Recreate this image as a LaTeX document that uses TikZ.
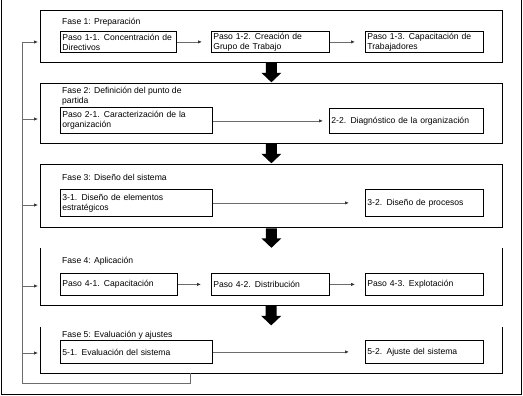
\documentclass[tikz,border=0pt]{standalone}
\usepackage{fontspec}
\setmainfont{Liberation Sans}
\usetikzlibrary{arrows.meta,calc}
\begin{document}
\begin{tikzpicture}[x=1pt,y=-1pt,
  every node/.style={font=\fontsize{8.6}{10}\selectfont},
  phase/.style={draw=black,line width=0.8pt,anchor=north west,inner sep=0pt,minimum width=462pt},
  phaseopen/.style={anchor=north west,inner sep=0pt,minimum width=462pt},
  stepbox/.style={draw=black,line width=0.8pt,anchor=north west,inner xsep=2pt,inner ysep=0pt,align=left},
  lbl/.style={anchor=base west,inner sep=0pt},
  link/.style={draw=gray!85!black,line width=0.7pt,-{Latex[length=4pt,width=3.4pt,color=black!80]}},
  bus/.style={draw=gray!85!black,line width=0.9pt},
  frame/.style={draw=black,line width=0.9pt}
]
\useasboundingbox (0,0) rectangle (523,396);
\newcommand\bigdown[1]{\fill[black] #1 ++(-5.5,0) -- ++(0,10) -- ++(-4.5,0) -- ++(10,9.5) -- ++(10,-9.5) -- ++(-4.5,0) -- ++(0,-10) -- cycle;}

% outer frame (open at top)
\draw[frame] (1,0) -- (1,394) -- (521,394) -- (521,0);

% phase boxes
\node[phase,minimum height=52pt] (f1) at (40,10) {};
\node[phase,minimum height=60pt] (f2) at (40,83) {};
\node[phase,minimum height=63pt] (f3) at (40,164) {};
\node[phaseopen,minimum height=57pt] (f4) at (40,248) {};
\node[phaseopen,minimum height=46pt] (f5) at (40,327) {};
\draw[line width=0.8pt] (f4.north west) -- (f4.south west) -- (f4.south east) -- (f4.north east);
\draw[line width=0.8pt] (f5.north west) -- (f5.south west) -- (f5.south east) -- (f5.north east);

% phase labels
\node[lbl] (l1) at (62,25) {Fase 1: Preparación};
\node[anchor=north west,inner sep=0pt,align=left] (l2) at (62,86.5) {Fase 2: Definición del punto de\\partida};
\node[lbl] (l3) at (62,181) {Fase 3: Diseño del sistema};
\node[lbl] (l4) at (62,263) {Fase 4: Aplicación};
\node[lbl] (l5) at (62,337) {Fase 5: Evaluación y ajustes};

% steps
\node[stepbox,text width=112pt,minimum height=21pt] (s11) at (60,31) {Paso 1-1. Concentración de\\Directivos};
\node[stepbox,text width=114pt,minimum height=21pt] (s12) at (211,31) {Paso 1-2. Creación de\\Grupo de Trabajo};
\node[stepbox,text width=114pt,minimum height=21pt] (s13) at (365,31) {Paso 1-3. Capacitación de\\Trabajadores};

\node[stepbox,text width=148pt,minimum height=26pt] (s21) at (60,107) {Paso 2-1. Caracterización de la\\organización};
\node[stepbox,text width=150pt,minimum height=25pt] (s22) at (329,108) {2-2. Diagnóstico de la organización};

\node[stepbox,text width=148pt,minimum height=27pt] (s31) at (60,189) {3-1. Diseño de elementos\\estratégicos};
\node[stepbox,text width=114pt,minimum height=27pt] (s32) at (365,189) {3-2. Diseño de procesos};

\node[stepbox,text width=113pt,minimum height=22pt] (s41) at (60,273) {Paso 4-1. Capacitación};
\node[stepbox,text width=114pt,minimum height=22pt] (s42) at (211,273) {Paso 4-2. Distribución};
\node[stepbox,text width=114pt,minimum height=22pt] (s43) at (365,273) {Paso 4-3. Explotación};

\node[stepbox,text width=148pt,minimum height=23pt] (s51) at (60,340) {5-1. Evaluación del sistema};
\node[stepbox,text width=114pt,minimum height=23pt] (s52) at (365,340) {5-2. Ajuste del sistema};

% step links
\draw[link,shorten >=9pt] (s11.east) -- (s12.west);
\draw[link,shorten >=10pt] (s12.east) -- (s13.west);
\draw[link,shorten >=6pt] (s21.east |- s22.west) -- (s22.west);
\draw[link,shorten >=16pt] (s31.east) -- (s32.west);
\draw[link,shorten >=10pt] (s41.east) -- (s42.west);
\draw[link,shorten >=10pt] (s42.east) -- (s43.west);
\draw[link,shorten >=16pt] (s51.east) -- (s52.west);

% big arrows between phases
\bigdown{(f1.south)}
\bigdown{(f2.south)}
\bigdown{($(f3.south)+(0,0.5)$)}
\bigdown{($(f4.south)+(0,0.5)$)}

% feedback bus
\coordinate (fbstart) at (190,373);
\coordinate (fbcorner) at (22,383);
\coordinate (b1) at (22,42);
\coordinate (b2) at (22,119);
\coordinate (b3) at (22,205);
\coordinate (b4) at (22,286);
\coordinate (b5) at (22,353);
\draw[bus] (fbstart) |- (fbcorner) -- (b1);
\draw[link,shorten >=2pt] (b1) -- (b1 -| f1.west);
\draw[link,shorten >=2pt] (b2) -- (b2 -| f2.west);
\draw[link,shorten >=2pt] (b3) -- (b3 -| f3.west);
\draw[link,shorten >=2pt] (b4) -- (b4 -| f4.west);
\draw[link,shorten >=2pt] (b5) -- (b5 -| f5.west);
\end{tikzpicture}
\end{document}
